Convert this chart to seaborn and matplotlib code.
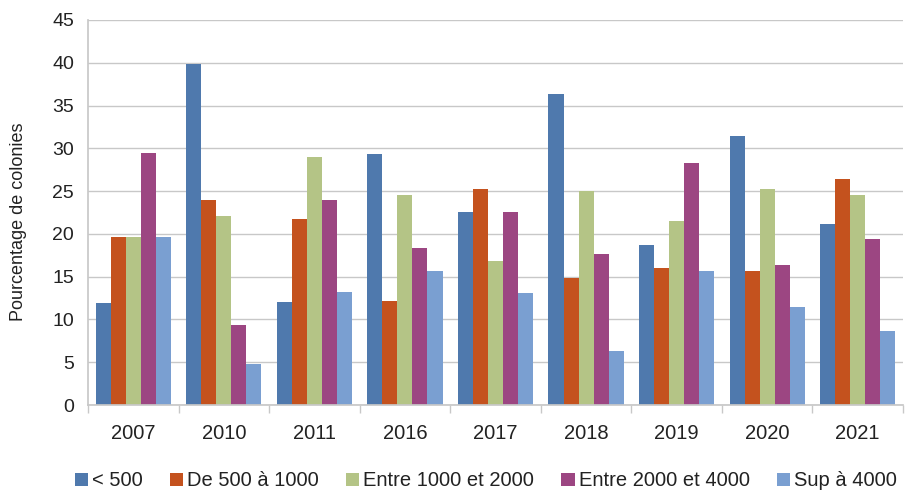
import matplotlib
matplotlib.use("Agg")
import matplotlib.pyplot as plt
import seaborn as sns
import pandas as pd
from matplotlib.patches import Patch

years = ["2007", "2010", "2011", "2016", "2017", "2018", "2019", "2020", "2021"]
series_names = ["< 500", "De 500 à 1000", "Entre 1000 et 2000", "Entre 2000 et 4000", "Sup à 4000"]
lt500 = [11.9, 39.9, 12.0, 29.3, 22.6, 36.4, 18.7, 31.4, 21.1]
s500_1000 = [19.6, 24.0, 21.7, 12.1, 25.3, 14.8, 16.0, 15.7, 26.4]
s1000_2000 = [19.6, 22.1, 29.0, 24.5, 16.8, 25.0, 21.5, 25.3, 24.6]
s2000_4000 = [29.5, 9.3, 24.0, 18.4, 22.6, 17.7, 28.3, 16.4, 19.4]
sup4000 = [19.6, 4.8, 13.2, 15.7, 13.1, 6.3, 15.7, 11.4, 8.6]
colors = ["#4f79ad", "#c4521e", "#b4c486", "#9c4682", "#7a9fd1"]

all_series = [lt500, s500_1000, s1000_2000, s2000_4000, sup4000]
rows = []
for name, vals in zip(series_names, all_series):
    for y, v in zip(years, vals):
        rows.append({"Année": y, "Classe": name, "Valeur": v})
df = pd.DataFrame(rows)

sns.set_theme(style="white")
plt.rcParams["font.family"] = ["Liberation Sans", "DejaVu Sans"]

fig = plt.figure(figsize=(9.05, 4.92), dpi=100)
ax = fig.add_axes([88/905, 87/492, 815/905, 385/492])

sns.barplot(data=df, x="Année", y="Valeur", hue="Classe", order=years,
            hue_order=series_names, palette=colors, width=0.83,
            saturation=1, edgecolor="none", linewidth=0, ax=ax, legend=False)

ax.set_ylim(0, 45)
ax.set_yticks(range(0, 46, 5))
ax.set_xlim(-0.5, len(years) - 0.5)
ax.yaxis.grid(True, color="#c8c8c8", linewidth=1.0)
ax.set_axisbelow(True)
for s in ["top", "right"]:
    ax.spines[s].set_visible(False)
ax.spines["left"].set_color("#c8c8c8")
ax.spines["bottom"].set_color("#c8c8c8")
ax.tick_params(axis="y", which="major", left=False, length=0,
               labelsize=14, labelcolor="#222222", pad=10)
ax.tick_params(axis="x", which="major", bottom=False, labelsize=14.5,
               labelcolor="#222222", pad=8)
ax.set_xticks(range(len(years)))
ax.set_xticklabels(years)
ax.set_xticks([i - 0.5 for i in range(len(years) + 1)], minor=True)
ax.tick_params(axis="x", which="minor", bottom=True, length=6, color="#c8c8c8")
ax.set_xlabel("")
ax.set_ylabel("Pourcentage de colonies", fontsize=13, color="#222222")
ax.yaxis.set_label_coords(-(88 - 27) / 815, (405 - 222) / 385)

handles = [Patch(facecolor=c, edgecolor="none") for c in colors]
leg = fig.legend(handles, series_names, loc="center", bbox_to_anchor=(486/905, 1 - 481/492),
                 ncol=5, frameon=False, fontsize=14.5, handlelength=0.65, handleheight=0.65,
                 handletextpad=0.2, columnspacing=1.35, labelcolor="#222222",
                 borderpad=0, borderaxespad=0)

fig.savefig("out.png", dpi=100)
